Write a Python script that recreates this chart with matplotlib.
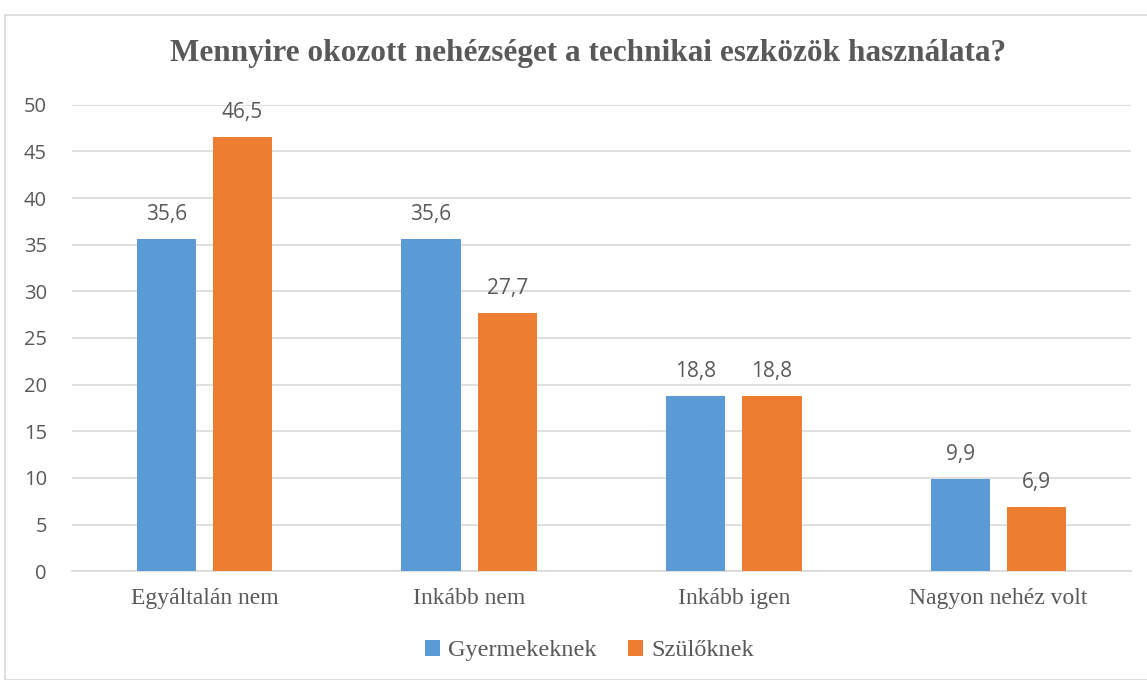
import numpy as np
import matplotlib.pyplot as plt
from matplotlib.patches import Rectangle

categories = ['Egyáltalán nem', 'Inkább nem', 'Inkább igen', 'Nagyon nehéz volt']
gyermek = [35.6, 35.6, 18.8, 9.9]
szulo = [46.5, 27.7, 18.8, 6.9]
series_names = ['Gyermekeknek', 'Szülőknek']

blue = '#5B9BD5'
orange = '#ED7D31'
txt = '#595959'

fig = plt.figure(figsize=(11.47, 6.8), dpi=100)
fig.patches.append(Rectangle((5/1147, 0), 1.0, 1 - 15/680, transform=fig.transFigure,
                             fill=False, edgecolor='#D9D9D9', linewidth=1.2))
ax = fig.add_axes([72/1147, 0.160, 1059/1147, 0.686])

x = np.arange(len(categories))
w = 0.224
off = 0.144
b1 = ax.bar(x - off, gyermek, w, color=blue, label=series_names[0], zorder=3)
b2 = ax.bar(x + off, szulo, w, color=orange, label=series_names[1], zorder=3)

for bars, vals in [(b1, gyermek), (b2, szulo)]:
    for r, v in zip(bars, vals):
        ax.text(r.get_x() + r.get_width() / 2, v + 1.5, f'{v:.1f}'.replace('.', ','),
                ha='center', va='bottom', fontsize=15, color=txt, family='Open Sans')

ax.set_xlim(-0.5, 3.5)
ax.set_ylim(0, 50)
ax.set_yticks(range(0, 51, 5))
ax.yaxis.grid(True, color='#D9D9D9', linewidth=1.2, zorder=0)
for s in ['top', 'right', 'left']:
    ax.spines[s].set_visible(False)
ax.spines['bottom'].set_color('#D9D9D9')
ax.spines['bottom'].set_linewidth(1.2)
ax.tick_params(axis='both', length=0)
ax.tick_params(axis='y', pad=18)
ax.tick_params(axis='x', pad=12)
ax.set_xticks(x)
ax.set_xticklabels(categories, fontsize=17, color=txt, family='Liberation Serif')
for lab in ax.get_yticklabels():
    lab.set_fontsize(14.5)
    lab.set_color(txt)
    lab.set_family('Open Sans')

fig.text(0.513, 0.921, 'Mennyire okozott nehézséget a technikai eszközök használata?',
         ha='center', va='center', fontsize=22.5, fontweight='bold', color=txt,
         family='Liberation Serif')

fig.legend(handles=[b1, b2], labels=series_names, loc='center', bbox_to_anchor=(0.514, 0.043),
           ncol=2, frameon=False, prop={'family': 'Liberation Serif', 'size': 17.5},
           handlelength=0.6, handleheight=0.6, columnspacing=1.3, handletextpad=0.35,
           labelcolor=txt)

fig.savefig('out.png', dpi=100)
